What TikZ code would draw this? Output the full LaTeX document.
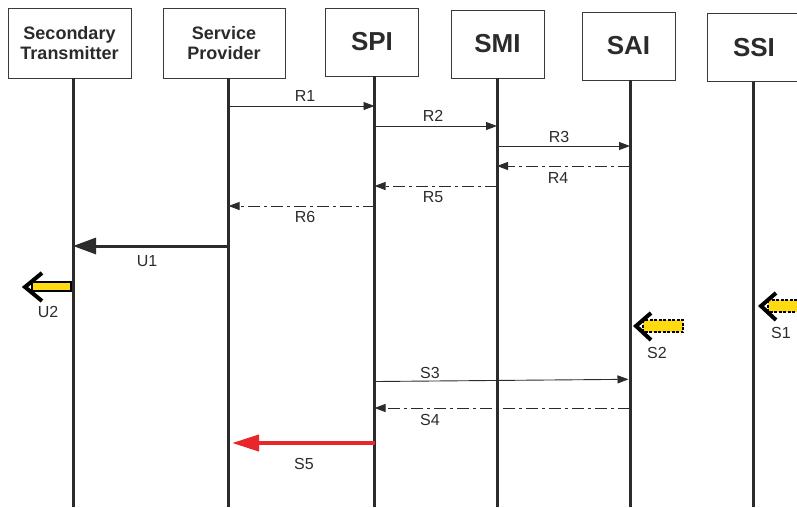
\documentclass[tikz,border=0pt]{standalone}
\usepackage{fontspec}
\setmainfont{Liberation Sans}
\usetikzlibrary{arrows.meta}
\definecolor{ink}{HTML}{2B2B2B}
\definecolor{boxline}{HTML}{3A3A3A}
\definecolor{ylw}{HTML}{FFDA10}
\definecolor{redarrow}{HTML}{E8262B}
\begin{document}
\begin{tikzpicture}[x=1pt,y=-1pt,
  actor/.style={draw=boxline,line width=0.8pt,fill=white,inner sep=0pt,align=center,text=ink,font=\bfseries},
  lifeline/.style={line width=3pt,ink},
  msg/.style={line width=0.9pt,ink,-{Triangle[length=11pt,width=8pt]}},
  reply/.style={msg,dash pattern=on 12pt off 4pt on 3pt off 4pt},
  bigmsg/.style={line width=3pt,ink,-{Triangle[length=23pt,width=16pt]}},
  redmsg/.style={line width=4pt,redarrow,-{Triangle[length=27pt,width=16pt]}},
  lbl/.style={text=ink,font=\fontsize{16}{18}\selectfont,inner sep=0pt},
  ybar/.style={fill=ylw,draw=black,line width=1.2pt},
  ybard/.style={ybar,dash pattern=on 3pt off 1.5pt},
  chev/.style={draw=black,line width=4pt,miter limit=10}
]
\useasboundingbox (0,0) rectangle (797,507);
% actors
\node[actor,minimum width=123pt,minimum height=70pt,font=\bfseries\fontsize{18}{20}\selectfont] (st) at (69.5,43) {Secondary\\Transmitter};
\node[actor,minimum width=122pt,minimum height=70pt,font=\bfseries\fontsize{18}{20}\selectfont] (sp) at (224,43) {Service\\Provider};
\node[actor,minimum width=93pt,minimum height=68pt,font=\bfseries\fontsize{26}{28}\selectfont] (spi) at (372,42) {SPI};
\node[actor,minimum width=93pt,minimum height=68pt,font=\bfseries\fontsize{26}{28}\selectfont] (smi) at (497.5,44) {SMI};
\node[actor,minimum width=93pt,minimum height=68pt,font=\bfseries\fontsize{26}{28}\selectfont] (sai) at (628.5,46) {SAI};
\node[actor,minimum width=94pt,minimum height=68pt,font=\bfseries\fontsize{26}{28}\selectfont] (ssi) at (754,47.5) {SSI};
% lifeline tops and bottoms
\coordinate (stT) at (73,78);   \coordinate (stB) at (73,507);
\coordinate (spT) at (228.5,78); \coordinate (spB) at (228.5,507);
\coordinate (spiT) at (374.5,76); \coordinate (spiB) at (374.5,507);
\coordinate (smiT) at (497,78); \coordinate (smiB) at (497,507);
\coordinate (saiT) at (630,80); \coordinate (saiB) at (630,507);
\coordinate (ssiT) at (753,82); \coordinate (ssiB) at (753,507);
\foreach \a in {st,sp,spi,smi,sai,ssi} \draw[lifeline] (\a T) -- (\a B);
% R messages
\draw[msg] (spT |- 0,106) -- (spiT |- 0,106);
\node[lbl] (r1) at (305,96) {R1};
\draw[msg] (spiT |- 0,126) -- (smiT |- 0,126);
\node[lbl] (r2) at (433,116) {R2};
\draw[msg] (smiT |- 0,146) -- (saiT |- 0,146);
\node[lbl] (r3) at (559,137) {R3};
\draw[reply] (saiT |- 0,166) -- (smiT |- 0,166);
\node[lbl] (r4) at (558,178) {R4};
\draw[reply] (smiT |- 0,186) -- (spiT |- 0,186);
\node[lbl] (r5) at (433,197) {R5};
\draw[reply] (spiT |- 0,206) -- (spT |- 0,206);
\node[lbl] (r6) at (305,217) {R6};
% U1
\draw[bigmsg] (spT |- 0,246) -- (stT |- 0,246);
\node[lbl] (u1) at (147,261) {U1};
% U2 yellow
\draw[ybar] (32,282) rectangle (71,291);
\draw[chev] (42,273) -- (25,287) -- (42,301);
\node[lbl] (u2) at (48,312) {U2};
% S1 yellow dashed
\draw[ybard] (768,300) rectangle (802,312);
\draw[chev] (776,293) -- (761,306) -- (776,320);
\node[lbl] (s1) at (781,333) {S1};
% S2 yellow dashed
\draw[ybard] (643,320) rectangle (683,332);
\draw[chev] (651,313) -- (636,326) -- (651,340);
\node[lbl] (s2) at (657,353) {S2};
% S messages
\coordinate (s3a) at (376,381.5);
\coordinate (s3b) at (628.5,379.3);
\draw[msg] (s3a) -- (s3b);
\node[lbl] (s3) at (430,373) {S3};
\draw[reply] (saiT |- 0,408) -- (spiT |- 0,408);
\node[lbl] (s4) at (430,420) {S4};
\draw[redmsg] (spiT |- 0,443) -- (232,443) coordinate (s5e);
\node[lbl] (s5) at (304,464) {S5};
\end{tikzpicture}
\end{document}
